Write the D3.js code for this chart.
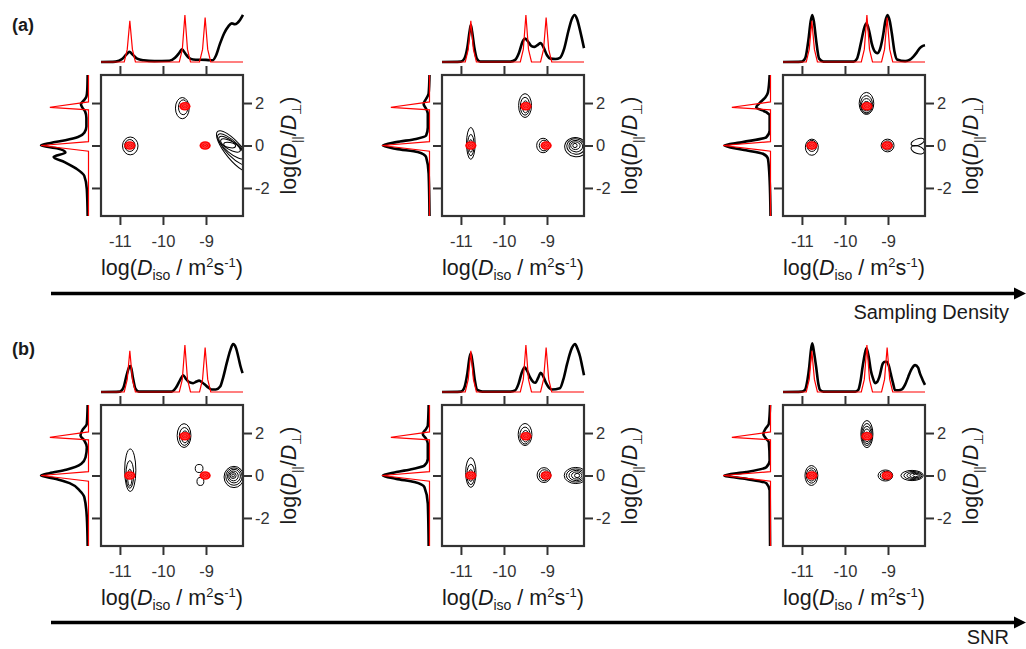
<!DOCTYPE html>
<html>
<head>
<meta charset="utf-8">
<script src="https://cdn.jsdelivr.net/npm/d3@7"></script>
<style>
  body { margin: 0; background: #fff; }
  svg { display: block; font-family: 'Liberation Sans', Arial, Helvetica, sans-serif; }
  .frame { fill: none; stroke: #333; stroke-width: 2.2; }
  .contour { fill: none; stroke: #000; stroke-width: 1; }
  .fit { fill: none; stroke: #000; stroke-width: 2.6; stroke-linejoin: round; }
  .truth { fill: none; stroke: #f00; stroke-width: 1.2; }
  .dot { fill: #f00; }
  .dot-ring { fill: none; stroke: #ff7a7a; stroke-width: 0.5; }
  .tick-label { font-size: 16.5px; fill: #333; }
  .axis-title { fill: #1a1a1a; font-size: 21.5px; }
  .row-label { fill: #1a1a1a; font-size: 18px; font-weight: bold; }
  .arrow-label { fill: #1a1a1a; font-size: 20px; }
</style>
</head>
<body>
<svg id="chart" width="1026" height="649"></svg>
<script>
// axes
const xTicks = [-11, -10, -9];
const yTicks = [-2, 0, 2];
const xDomain = [-11.44, -8.14];
const yDomain = [-3.32, 3.32];

// ground truth: peak positions [logDiso, logDratio] and its projections
const truthPeaks = [[-10.77, 0], [-9.49, 1.85], [-9.02, 0]];
const truthTop = [[-11.44, 0], [-10.9, 0], [-10.83, 0.3], [-10.77, 0.98], [-10.71, 0.3], [-10.64, 0],
  [-9.62, 0], [-9.55, 0.3], [-9.49, 1.12], [-9.43, 0.3], [-9.36, 0],
  [-9.15, 0], [-9.08, 0.3], [-9.02, 1.06], [-8.96, 0.3], [-8.89, 0], [-8.14, 0]];
const truthLeft = [[3.32, 0], [2.05, 0], [1.8, 0.92], [1.68, 0], [0.18, 0], [0, 1.13], [-0.27, 0], [-3.32, 0]];

// estimated projections, top: [logDiso, amplitude]
const topA1 = [[-11.44, 0], [-11.1, 0.01], [-10.95, 0.07], [-10.85, 0.18], [-10.78, 0.24], [-10.7, 0.17], [-10.6, 0.08],
  [-10.45, 0.04], [-10.2, 0.02], [-9.85, 0.03], [-9.72, 0.1], [-9.62, 0.22], [-9.56, 0.3], [-9.48, 0.2], [-9.4, 0.1],
  [-9.3, 0.06], [-9.0, 0.05], [-8.85, 0.04], [-8.77, 0.15], [-8.68, 0.42], [-8.58, 0.68], [-8.48, 0.85], [-8.4, 0.92],
  [-8.33, 0.9], [-8.27, 0.93], [-8.21, 1.0], [-8.14, 1.12]];
const topA2 = [[-11.44, 0], [-11.0, 0.01], [-10.92, 0.08], [-10.85, 0.35], [-10.8, 0.72], [-10.77, 0.88], [-10.74, 0.72],
  [-10.69, 0.35], [-10.63, 0.08], [-10.55, 0.01], [-9.85, 0.01], [-9.74, 0.05], [-9.65, 0.22], [-9.57, 0.48], [-9.51, 0.56],
  [-9.45, 0.5], [-9.36, 0.38], [-9.29, 0.36], [-9.21, 0.41], [-9.15, 0.45], [-9.08, 0.35], [-9.0, 0.16], [-8.92, 0.08],
  [-8.8, 0.07], [-8.7, 0.1], [-8.6, 0.32], [-8.5, 0.75], [-8.42, 1.03], [-8.36, 1.12], [-8.3, 1.02], [-8.22, 0.7], [-8.14, 0.33]];
const topA3 = [[-11.44, 0], [-11.0, 0.01], [-10.92, 0.1], [-10.85, 0.52], [-10.8, 0.95], [-10.76, 1.12], [-10.72, 0.95],
  [-10.67, 0.52], [-10.6, 0.08], [-10.5, 0.01], [-9.8, 0.01], [-9.72, 0.08], [-9.62, 0.5], [-9.55, 0.82], [-9.5, 0.92],
  [-9.44, 0.75], [-9.38, 0.45], [-9.3, 0.24], [-9.25, 0.21], [-9.19, 0.29], [-9.12, 0.6], [-9.06, 0.98], [-9.01, 1.12],
  [-8.96, 0.98], [-8.91, 0.68], [-8.85, 0.25], [-8.79, 0.06], [-8.6, 0.02], [-8.5, 0.05], [-8.41, 0.13], [-8.33, 0.23],
  [-8.26, 0.33], [-8.2, 0.38], [-8.14, 0.4]];
const topB1 = [[-11.44, 0], [-11.0, 0.01], [-10.92, 0.1], [-10.84, 0.42], [-10.78, 0.6], [-10.75, 0.62], [-10.7, 0.35],
  [-10.64, 0.08], [-10.56, 0.01], [-9.8, 0.01], [-9.7, 0.1], [-9.6, 0.29], [-9.53, 0.4], [-9.47, 0.32], [-9.4, 0.24],
  [-9.3, 0.21], [-9.22, 0.25], [-9.16, 0.27], [-9.08, 0.22], [-9.02, 0.17], [-8.94, 0.1], [-8.87, 0.06], [-8.77, 0.06],
  [-8.67, 0.13], [-8.6, 0.35], [-8.52, 0.68], [-8.44, 0.98], [-8.37, 1.14], [-8.3, 1.04], [-8.25, 0.84], [-8.2, 0.62], [-8.15, 0.45]];
const topB2 = [[-11.44, 0], [-11.0, 0.01], [-10.93, 0.08], [-10.85, 0.45], [-10.8, 0.82], [-10.77, 0.92], [-10.73, 0.7],
  [-10.68, 0.3], [-10.62, 0.05], [-10.5, 0.01], [-9.85, 0.01], [-9.74, 0.04], [-9.66, 0.2], [-9.59, 0.45], [-9.52, 0.59],
  [-9.46, 0.5], [-9.4, 0.36], [-9.32, 0.24], [-9.27, 0.22], [-9.2, 0.35], [-9.15, 0.46], [-9.09, 0.38], [-9.02, 0.21],
  [-8.95, 0.1], [-8.89, 0.06], [-8.7, 0.09], [-8.62, 0.3], [-8.53, 0.68], [-8.44, 1.0], [-8.35, 1.14], [-8.28, 1.0],
  [-8.23, 0.84], [-8.18, 0.6], [-8.14, 0.4]];
const topB3 = [[-11.44, 0], [-11.0, 0.01], [-10.93, 0.05], [-10.87, 0.3], [-10.83, 0.6], [-10.79, 1.0], [-10.76, 1.16],
  [-10.72, 0.95], [-10.67, 0.6], [-10.62, 0.2], [-10.58, 0.05], [-10.5, 0.01], [-9.76, 0.01], [-9.69, 0.05], [-9.64, 0.25],
  [-9.59, 0.6], [-9.54, 0.9], [-9.5, 1.04], [-9.45, 0.85], [-9.4, 0.52], [-9.35, 0.33], [-9.3, 0.21], [-9.25, 0.24],
  [-9.2, 0.36], [-9.12, 0.68], [-9.07, 0.72], [-9.03, 0.72], [-8.98, 0.62], [-8.94, 0.45], [-8.88, 0.2], [-8.84, 0.05],
  [-8.75, 0.04], [-8.68, 0.06], [-8.6, 0.18], [-8.53, 0.36], [-8.45, 0.55], [-8.37, 0.64], [-8.3, 0.58], [-8.26, 0.45],
  [-8.2, 0.3], [-8.14, 0.17]];

// estimated projections, left: [logDratio, amplitude], top to bottom
const leftA1 = [[3.32, 0.02], [2.6, 0.03], [2.3, 0.05], [2.1, 0.12], [1.96, 0.18], [1.8, 0.15], [1.6, 0.08], [1.3, 0.05],
  [0.9, 0.05], [0.6, 0.1], [0.4, 0.25], [0.25, 0.55], [0.12, 0.9], [0.0, 1.13], [-0.14, 0.73], [-0.33, 0.55],
  [-0.54, 0.83], [-0.78, 0.57], [-1.09, 0.29], [-1.43, 0.1], [-2.06, 0.04], [-3.32, 0.02]];
const leftA2 = [[3.32, 0.0], [2.45, 0.02], [2.2, 0.08], [1.96, 0.14], [1.73, 0.08], [1.49, 0.04], [0.86, 0.04], [0.47, 0.08],
  [0.31, 0.32], [0.16, 0.79], [0.0, 1.11], [-0.16, 0.79], [-0.31, 0.28], [-0.55, 0.08], [-1.33, 0.02], [-3.32, 0.0]];
const leftA3 = [[3.32, 0.02], [2.51, 0.06], [2.27, 0.12], [2.0, 0.26], [1.8, 0.34], [1.57, 0.1], [1.41, 0.02], [0.71, 0.02],
  [0.39, 0.1], [0.16, 0.66], [0.0, 1.1], [-0.2, 0.66], [-0.39, 0.18], [-0.63, 0.06], [-1.65, 0.02], [-3.32, 0.0]];
const leftB1 = [[3.32, 0.02], [2.43, 0.04], [2.12, 0.15], [1.88, 0.19], [1.65, 0.1], [1.33, 0.04], [0.86, 0.07], [0.55, 0.17],
  [0.27, 0.53], [0.11, 0.93], [0.0, 1.13], [-0.16, 0.77], [-0.36, 0.45], [-0.71, 0.21], [-1.02, 0.1], [-1.96, 0.04], [-3.32, 0.02]];
const leftB2 = [[3.32, 0.02], [2.35, 0.04], [2.2, 0.08], [1.96, 0.16], [1.73, 0.08], [1.49, 0.04], [0.79, 0.04], [0.47, 0.12],
  [0.31, 0.4], [0.16, 0.79], [0.0, 1.11], [-0.16, 0.79], [-0.31, 0.36], [-0.55, 0.12], [-1.33, 0.04], [-3.32, 0.02]];
const leftB3 = [[3.32, 0.01], [2.43, 0.04], [2.2, 0.12], [1.96, 0.17], [1.77, 0.12], [1.57, 0.04], [0.71, 0.02], [0.39, 0.1],
  [0.16, 0.58], [0.0, 1.1], [-0.16, 0.58], [-0.36, 0.1], [-0.71, 0.02], [-3.32, 0.01]];

// contour levels read as ellipses: [logDiso, logDratio, halfWidthIso, halfWidthRatio, tiltDeg]
const contA1 = [[-10.76, -0.02, 0.18, 0.42, 0], [-10.77, 0.0, 0.12, 0.28, 0],
  [-9.55, 1.76, 0.16, 0.5, 0], [-9.53, 1.8, 0.11, 0.35, 0],
  [-8.33, -0.3, 0.62, 0.4, 50], [-8.36, -0.2, 0.5, 0.32, 45], [-8.4, -0.1, 0.38, 0.26, 40],
  [-8.43, 0.0, 0.26, 0.2, 30], [-8.45, 0.02, 0.14, 0.12, 10]];
const contA2 = [[-10.77, 0.1, 0.1, 0.75, 0], [-10.77, 0.02, 0.075, 0.5, 0], [-10.77, -0.02, 0.045, 0.3, 0],
  [-9.51, 1.88, 0.15, 0.56, 0], [-9.51, 1.85, 0.11, 0.42, 0], [-9.5, 1.82, 0.07, 0.28, 0],
  [-9.09, 0.0, 0.15, 0.34, 0], [-9.07, 0.0, 0.11, 0.25, 0], [-9.05, 0.0, 0.07, 0.16, 0],
  [-8.33, -0.08, 0.26, 0.45, 10], [-8.33, -0.05, 0.21, 0.36, 10], [-8.33, -0.03, 0.16, 0.27, 5],
  [-8.34, -0.01, 0.11, 0.18, 0], [-8.35, 0.0, 0.05, 0.1, 0]];
const contA3 = [[-10.77, -0.08, 0.15, 0.38, 0], [-10.77, -0.02, 0.11, 0.26, 0], [-10.77, 0, 0.07, 0.17, 0],
  [-9.5, 1.98, 0.17, 0.52, 0], [-9.5, 1.93, 0.14, 0.42, 0], [-9.5, 1.88, 0.12, 0.33, 0], [-9.5, 1.85, 0.08, 0.22, 0],
  [-9.01, 0, 0.15, 0.3, 0], [-9.01, 0, 0.11, 0.22, 0], [-9.01, 0, 0.07, 0.14, 0],
  [-8.31, 0.16, 0.16, 0.15, -20], [-8.31, -0.2, 0.16, 0.18, 20]];
const contB1 = [[-10.76, 0.25, 0.13, 1.0, 0], [-10.77, 0.05, 0.09, 0.65, 0], [-10.77, -0.1, 0.05, 0.4, 0],
  [-9.51, 1.88, 0.16, 0.56, 0], [-9.5, 1.84, 0.12, 0.42, 0], [-9.49, 1.82, 0.08, 0.28, 0],
  [-9.16, 0.33, 0.09, 0.19, 0], [-9.13, -0.28, 0.08, 0.19, 0],
  [-8.35, -0.07, 0.23, 0.5, 0], [-8.35, -0.05, 0.19, 0.41, 0], [-8.35, -0.03, 0.15, 0.32, 0],
  [-8.36, -0.02, 0.11, 0.23, 0], [-8.37, 0, 0.07, 0.14, 0], [-8.37, 0, 0.03, 0.07, 0]];
const contB2 = [[-10.77, 0.14, 0.12, 0.7, 0], [-10.77, 0.05, 0.09, 0.48, 0], [-10.77, 0.0, 0.05, 0.28, 0],
  [-9.51, 1.93, 0.16, 0.52, 0], [-9.51, 1.88, 0.12, 0.4, 0], [-9.5, 1.85, 0.08, 0.27, 0],
  [-9.07, 0.02, 0.16, 0.35, 0], [-9.06, 0.01, 0.12, 0.26, 0], [-9.05, 0, 0.08, 0.17, 0],
  [-8.33, 0, 0.27, 0.38, 0], [-8.33, 0, 0.22, 0.31, 0], [-8.32, 0, 0.17, 0.24, 0],
  [-8.31, 0, 0.12, 0.17, 0], [-8.3, 0, 0.06, 0.1, 0]];
const contB3 = [[-10.78, 0, 0.15, 0.47, 0], [-10.78, 0, 0.12, 0.36, 0], [-10.78, 0, 0.09, 0.26, 0], [-10.78, 0, 0.05, 0.15, 0],
  [-9.49, 1.95, 0.14, 0.64, 0], [-9.49, 1.93, 0.12, 0.52, 0], [-9.49, 1.91, 0.1, 0.41, 0], [-9.49, 1.89, 0.08, 0.3, 0],
  [-9.49, 1.87, 0.05, 0.18, 0],
  [-9.06, 0, 0.17, 0.26, 0], [-9.05, 0, 0.13, 0.2, 0], [-9.04, 0, 0.09, 0.14, 0],
  [-8.44, 0, 0.26, 0.24, 0], [-8.42, 0, 0.21, 0.19, 0], [-8.4, 0, 0.16, 0.14, 0], [-8.38, 0, 0.11, 0.1, 0], [-8.36, 0, 0.06, 0.06, 0]];

const rowLabels = ['(a)', '(b)'];
const arrowLabels = ['Sampling Density', 'SNR'];

const panels = [
  { row: 0, col: 0, top: topA1, left: leftA1, contours: contA1 },
  { row: 0, col: 1, top: topA2, left: leftA2, contours: contA2 },
  { row: 0, col: 2, top: topA3, left: leftA3, contours: contA3 },
  { row: 1, col: 0, top: topB1, left: leftB1, contours: contB1 },
  { row: 1, col: 1, top: topB2, left: leftB2, contours: contB2 },
  { row: 1, col: 2, top: topB3, left: leftB3, contours: contB3 }
];

// layout
const colStep = 341;
const rowY = [0, 330];
const box = { left: 101, right: 243, top: 75, bottom: 216 };

const svg = d3.select('#chart');
svg.append('rect').attr('width', 1026).attr('height', 649).attr('fill', '#fff');

const x = d3.scaleLinear().domain(xDomain).range([box.left, box.right]);
const y = d3.scaleLinear().domain(yDomain).range([box.bottom, box.top]);
const topV = d3.scaleLinear().domain([0, 1]).range([62, 20]);
const leftV = d3.scaleLinear().domain([0, 1]).range([88.5, 46.5]);

const topLine = d3.line().x(d => x(d[0])).y(d => topV(d[1])).curve(d3.curveMonotoneX);
const topLineSharp = d3.line().x(d => x(d[0])).y(d => topV(d[1]));
const leftLine = d3.line().x(d => leftV(d[1])).y(d => y(d[0])).curve(d3.curveMonotoneY);
const leftLineSharp = d3.line().x(d => leftV(d[1])).y(d => y(d[0]));

const styleAxis = (g, showText) => {
  g.attr('font-family', null).attr('font-size', null);
  g.select('.domain').remove();
  g.selectAll('.tick line').attr('stroke', '#333').attr('stroke-width', 2);
  g.selectAll('.tick text')
    .attr('class', 'tick-label')
    .attr('fill', null)
    .style('display', showText ? null : 'none');
};

function drawPanel(p, i) {
  const g = svg.append('g')
    .attr('transform', `translate(${p.col * colStep},${rowY[p.row]})`);

  g.append('clipPath').attr('id', `clip${i}`)
    .append('rect')
    .attr('x', box.left).attr('y', box.top)
    .attr('width', box.right - box.left).attr('height', box.bottom - box.top);

  // contours
  g.append('g')
    .attr('clip-path', `url(#clip${i})`)
    .selectAll('ellipse')
    .data(p.contours)
    .join('ellipse')
    .attr('class', 'contour')
    .attr('cx', d => x(d[0]))
    .attr('cy', d => y(d[1]))
    .attr('rx', d => x(d[0] + d[2]) - x(d[0]))
    .attr('ry', d => y(d[1]) - y(d[1] + d[3]))
    .attr('transform', d => `rotate(${d[4]},${x(d[0])},${y(d[1])})`);

  // true peak positions
  const dots = g.append('g').selectAll('g').data(truthPeaks).join('g')
    .attr('transform', d => `translate(${x(d[0])},${y(d[1])})`);
  dots.append('ellipse').attr('class', 'dot').attr('rx', 5.6).attr('ry', 4.3);
  dots.append('ellipse').attr('class', 'dot-ring').attr('rx', 3.4).attr('ry', 2.5);
  dots.append('ellipse').attr('class', 'dot-ring').attr('rx', 1.4).attr('ry', 1);

  // frame and axes
  g.append('rect').attr('class', 'frame')
    .attr('x', box.left).attr('y', box.top)
    .attr('width', box.right - box.left).attr('height', box.bottom - box.top);

  g.append('g').attr('transform', `translate(0,${box.bottom})`)
    .call(d3.axisBottom(x).tickValues(xTicks).tickSize(9).tickSizeOuter(0).tickPadding(10).tickFormat(d => `${d}`))
    .call(a => styleAxis(a, true));
  g.append('g').attr('transform', `translate(0,${box.top})`)
    .call(d3.axisTop(x).tickValues(xTicks).tickSize(9).tickSizeOuter(0))
    .call(a => styleAxis(a, false));
  g.append('g').attr('transform', `translate(${box.right},0)`)
    .call(d3.axisRight(y).tickValues(yTicks).tickSize(9).tickSizeOuter(0).tickPadding(3).tickFormat(d => `${d}`))
    .call(a => styleAxis(a, true));
  g.append('g').attr('transform', `translate(${box.left},0)`)
    .call(d3.axisLeft(y).tickValues(yTicks).tickSize(9).tickSizeOuter(0))
    .call(a => styleAxis(a, false));

  // projections
  g.append('path').attr('class', 'fit').attr('d', topLine(p.top));
  g.append('path').attr('class', 'truth').attr('d', topLineSharp(truthTop));
  g.append('path').attr('class', 'fit').attr('d', leftLine(p.left));
  g.append('path').attr('class', 'truth').attr('d', leftLineSharp(truthLeft));

  // axis titles
  const xt = g.append('text').attr('class', 'axis-title')
    .attr('x', (box.left + box.right) / 2).attr('y', 275)
    .attr('text-anchor', 'middle');
  xt.append('tspan').text('log(');
  xt.append('tspan').attr('font-style', 'italic').text('D');
  xt.append('tspan').attr('font-size', 14).attr('dy', 5).text('iso');
  xt.append('tspan').attr('dy', -5).text(' / m');
  xt.append('tspan').attr('font-size', 13).attr('dy', -8).text('2');
  xt.append('tspan').attr('dy', 8).text('s');
  xt.append('tspan').attr('font-size', 13).attr('dy', -8).text('-1');
  xt.append('tspan').attr('dy', 8).text(')');

  const yt = g.append('text').attr('class', 'axis-title')
    .attr('transform', `translate(296,${(box.top + box.bottom) / 2}) rotate(-90)`)
    .attr('text-anchor', 'middle');
  yt.append('tspan').text('log(');
  yt.append('tspan').attr('font-style', 'italic').text('D');
  yt.append('tspan').attr('font-size', 13).attr('dy', 5).text('||');
  yt.append('tspan').attr('dy', -5).text('/');
  yt.append('tspan').attr('font-style', 'italic').text('D');
  yt.append('tspan').attr('font-size', 13).attr('dy', 5).text('⊥');
  yt.append('tspan').attr('dy', -5).text(')');
}

panels.forEach(drawPanel);

// row labels and arrows
const labelY = [31, 355];
const arrowY = [293.5, 622.5];
const arrowTextY = [319, 644];

rowLabels.forEach((t, r) => {
  svg.append('text').attr('class', 'row-label').attr('x', 12).attr('y', labelY[r]).text(t);
});

arrowLabels.forEach((t, r) => {
  const ay = arrowY[r];
  svg.append('line')
    .attr('x1', 51).attr('x2', 1016).attr('y1', ay).attr('y2', ay)
    .attr('stroke', '#000').attr('stroke-width', 3.6);
  svg.append('path')
    .attr('d', `M1014,${ay - 6}L1026,${ay}L1014,${ay + 6}Z`)
    .attr('fill', '#000');
  svg.append('text').attr('class', 'arrow-label')
    .attr('x', 1009).attr('y', arrowTextY[r])
    .attr('text-anchor', 'end').text(t);
});
</script>
</body>
</html>
